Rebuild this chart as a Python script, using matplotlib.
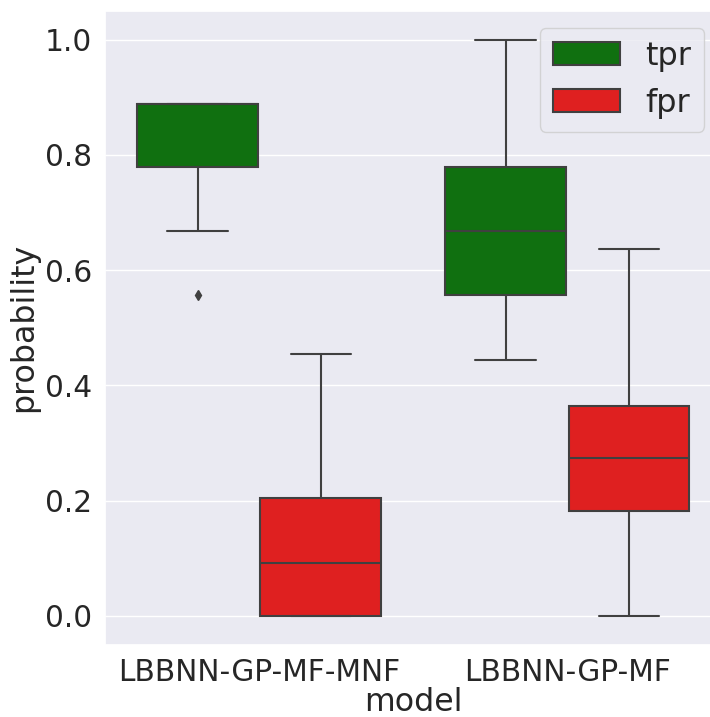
import numpy as np
import pandas as pd
import seaborn as sns
import matplotlib
matplotlib.use('Agg')
import matplotlib.pyplot as plt

models = ['LBBNN-GP-MF-MNF', 'LBBNN-GP-MF']

# per-run rates (tpr in ninths, fpr in elevenths)
tpr_mnf = [0.556, 0.667, 0.778, 0.778, 0.889, 0.889, 0.889, 0.889, 0.889, 0.889, 0.889, 0.889]
fpr_mnf = [0.0, 0.0, 0.0, 0.0, 0.091, 0.091, 0.091, 0.182, 0.182, 0.273, 0.364, 0.455]
tpr_mf = [0.444, 0.556, 0.556, 0.556, 0.667, 0.667, 0.667, 0.778, 0.778, 0.778, 0.889, 1.0]
fpr_mf = [0.0, 0.091, 0.182, 0.182, 0.273, 0.273, 0.273, 0.364, 0.364, 0.364, 0.455, 0.636]

rows = []
for m, tp, fp in [(models[0], tpr_mnf, fpr_mnf), (models[1], tpr_mf, fpr_mf)]:
    for v in tp:
        rows.append((m, v, 'tpr'))
    for v in fp:
        rows.append((m, v, 'fpr'))
df = pd.DataFrame(rows, columns=['model', 'probability', 'rate'])

sns.set(font_scale=2)
fig = plt.figure(figsize=(7.1, 7.17), dpi=100)
ax = fig.add_subplot(111)
# axes runs a bit past the right edge, as in the cropped original
plt.subplots_adjust(left=0.148, right=1.016, top=0.985, bottom=0.101)
lc = '#404040'
sns.boxplot(data=df, x='model', y='probability', hue='rate',
            palette={'tpr': 'green', 'fpr': 'red'}, ax=ax,
            width=0.8, gap=0.02, linewidth=1.5, linecolor=lc,
            flierprops={'marker': 'd', 'markerfacecolor': lc,
                        'markeredgecolor': lc, 'markersize': 5})
ax.legend(loc='upper right', fontsize=23, handlelength=2.1,
          borderpad=0.4, labelspacing=0.5, borderaxespad=0,
          bbox_to_anchor=(704 / 710, 1 - 28 / 717), bbox_transform=fig.transFigure)
ax.set_ylim(-0.05, 1.05)
ax.tick_params(labelsize=21.3)
ax.set_xlabel('model', fontsize=22.8, labelpad=0)
ax.set_ylabel('probability', fontsize=22.8)
plt.savefig('out.png', dpi=100)
